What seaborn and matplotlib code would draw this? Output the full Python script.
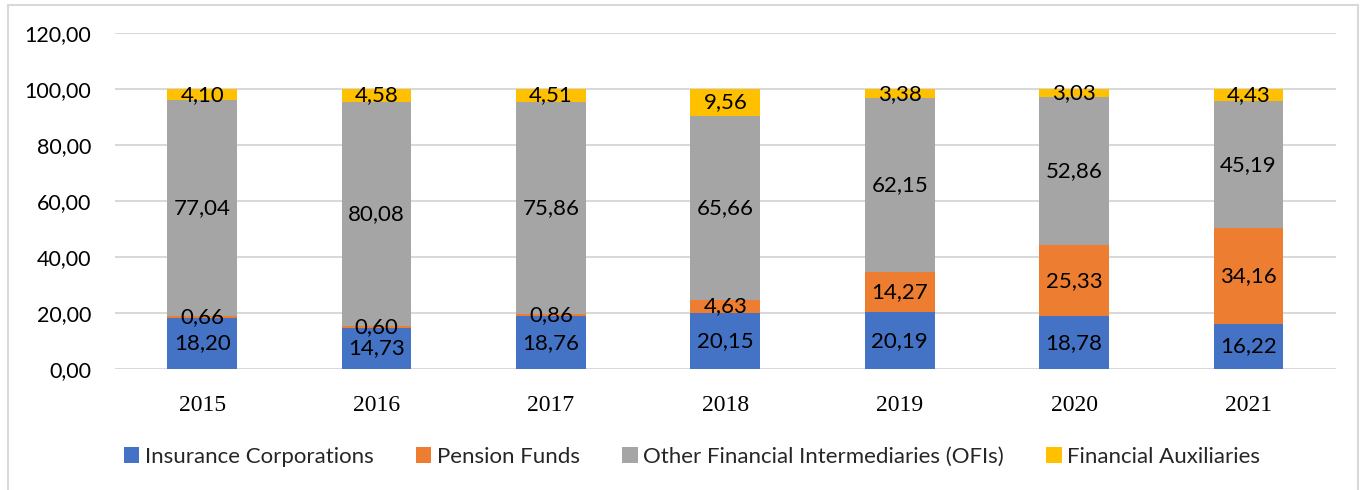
import numpy as np
import pandas as pd
import matplotlib
matplotlib.use("Agg")
import matplotlib.pyplot as plt
import seaborn as sns
from matplotlib.patches import Rectangle
from matplotlib.ticker import FuncFormatter, MultipleLocator

years = ["2015", "2016", "2017", "2018", "2019", "2020", "2021"]
insurance = [18.20, 14.73, 18.76, 20.15, 20.19, 18.78, 16.22]
pension = [0.66, 0.60, 0.86, 4.63, 14.27, 25.33, 34.16]
ofis = [77.04, 80.08, 75.86, 65.66, 62.15, 52.86, 45.19]
auxiliaries = [4.10, 4.58, 4.51, 9.56, 3.38, 3.03, 4.43]

series_names = ["Insurance Corporations", "Pension Funds",
                "Other Financial Intermediaries (OFIs)", "Financial Auxiliaries"]
series_values = [insurance, pension, ofis, auxiliaries]
colors = ["#4472C4", "#ED7D31", "#A5A5A5", "#FFC000"]

sns.set_theme(style="white")
plt.rcParams['font.family'] = ['Lato', 'DejaVu Sans']

fig = plt.figure(figsize=(13.7, 4.9), dpi=100)
ax = fig.add_axes([0.0839, 0.247, 0.975 - 0.0839, 0.9327 - 0.247])

vals = np.array(series_values)
cum = np.cumsum(vals, axis=0)

# draw from the top cumulative down so lower segments overlay
for i in range(len(series_names) - 1, -1, -1):
    df = pd.DataFrame({"year": years, "value": cum[i]})
    sns.barplot(data=df, x="year", y="value", color=colors[i], width=0.4,
                linewidth=0, saturation=1, ax=ax, zorder=2)

# labels
for i in range(len(series_names)):
    for j, y in enumerate(years):
        base = cum[i][j] - vals[i][j]
        center = base + vals[i][j] / 2
        ax.text(j, center, f"{vals[i][j]:.2f}".replace(".", ","),
                ha="center", va="center", fontsize=16, color="black", zorder=5)

ax.set_ylim(0, 120)
ax.set_xlim(-0.5, len(years) - 0.5)
ax.yaxis.set_major_locator(MultipleLocator(20))
ax.yaxis.set_major_formatter(FuncFormatter(lambda v, p: f"{v:.2f}".replace(".", ",")))
ax.grid(axis="y", color="#d9d9d9", linewidth=1.5, zorder=0)
ax.set_axisbelow(True)
for s in ax.spines.values():
    s.set_visible(False)
ax.set_xlabel("")
ax.set_ylabel("")
ax.tick_params(axis="both", length=0)
ax.tick_params(axis="y", labelsize=15.5, pad=17)
for lbl in ax.get_yticklabels():
    lbl.set_color("black")
ax.tick_params(axis="x", pad=19)
for lbl in ax.get_xticklabels():
    lbl.set_fontfamily("Liberation Serif")
    lbl.set_fontsize(17)
    lbl.set_color("black")

handles = [Rectangle((0, 0), 1, 1, facecolor=c, edgecolor="none") for c in colors]
fig.legend(handles, series_names, loc="center", bbox_to_anchor=(0.505, 0.068),
           ncol=4, frameon=False, fontsize=16, handlelength=0.7, handleheight=0.7,
           handletextpad=0.25, columnspacing=1.9)

fig.patches.append(Rectangle((8 / 1370, -0.01), 1350 / 1370, 0.999, transform=fig.transFigure,
                             fill=False, edgecolor="#d9d9d9", linewidth=1.5))

fig.savefig("out.png", dpi=100)
